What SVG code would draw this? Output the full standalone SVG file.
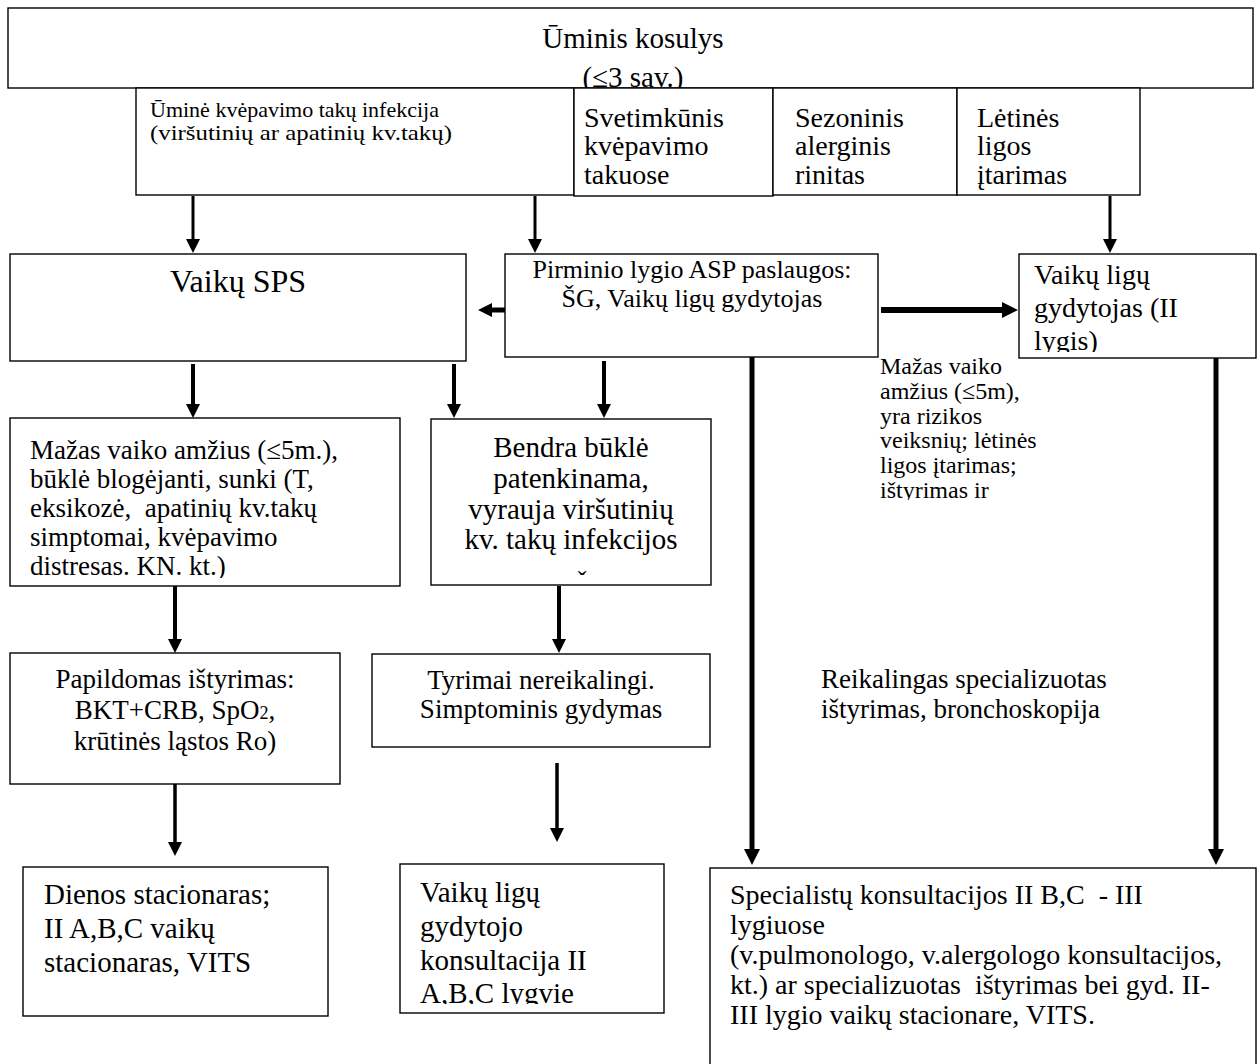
<svg xmlns="http://www.w3.org/2000/svg" width="1259" height="1064" viewBox="0 0 1259 1064">
<style>
.box{fill:#fff;stroke:#000;stroke-width:1.4}
.t{font-family:"Liberation Serif","Times New Roman",serif;fill:#000}
.c{text-anchor:middle}
.a{stroke:#000;fill:none}
</style>
<defs>
<marker id="ah" viewBox="0 0 14 14" refX="6" refY="7" markerWidth="14" markerHeight="14" markerUnits="userSpaceOnUse" orient="auto"><path d="M0,0 L14,7 L0,14 z" fill="#000"/></marker>
<marker id="ahL" viewBox="0 0 16 16" refX="7" refY="8" markerWidth="16" markerHeight="16" markerUnits="userSpaceOnUse" orient="auto"><path d="M0,0 L16,8 L0,16 z" fill="#000"/></marker>
<marker id="ahG" viewBox="0 0 14 14" refX="6" refY="7" markerWidth="14" markerHeight="14" markerUnits="userSpaceOnUse" orient="auto"><path d="M0,0 L14,7 L0,14 z" fill="#8a8a8a"/></marker>
<filter id="sh" x="-5%" y="-200%" width="110%" height="500%"><feDropShadow dx="0" dy="2" stdDeviation="1.5" flood-color="#000" flood-opacity="0.25"/></filter>
<clipPath id="cTop"><rect x="8" y="8" width="1245" height="80"/></clipPath>
<clipPath id="cVL"><rect x="1019" y="254" width="237" height="98"/></clipPath>
<clipPath id="cLab"><rect x="870" y="350" width="200" height="150"/></clipPath>
<clipPath id="cMz"><rect x="10" y="418" width="390" height="160"/></clipPath>
<clipPath id="cVG"><rect x="400" y="864" width="264" height="140"/></clipPath>
</defs>

<g id="connectors">
<line class="a" x1="193" y1="196" x2="193" y2="245" stroke-width="3" marker-end="url(#ah)"/>
<line class="a" x1="535" y1="196" x2="535" y2="245" stroke-width="3" marker-end="url(#ah)"/>
<line class="a" x1="1110" y1="196" x2="1110" y2="245" stroke-width="3" marker-end="url(#ah)"/>
<line class="a" x1="505" y1="310" x2="486" y2="310" stroke-width="5" marker-end="url(#ah)"/>
<line class="a" x1="881" y1="310" x2="1009" y2="310" stroke-width="6" marker-end="url(#ahL)"/>
<line class="a" x1="193" y1="364" x2="193" y2="410" stroke-width="4" marker-end="url(#ah)"/>
<line class="a" x1="454" y1="364" x2="454" y2="410" stroke-width="4" marker-end="url(#ah)"/>
<line class="a" x1="604" y1="361" x2="604" y2="410" stroke-width="4" marker-end="url(#ah)"/>
<line class="a" x1="752" y1="357" x2="752" y2="856" stroke-width="5" marker-end="url(#ahL)"/>
<line class="a" x1="1216" y1="358" x2="1216" y2="856" stroke-width="5" marker-end="url(#ahL)"/>
<line class="a" x1="175" y1="586" x2="175" y2="645" stroke-width="4" marker-end="url(#ah)"/>
<line class="a" x1="559" y1="586" x2="559" y2="645" stroke-width="4" marker-end="url(#ah)"/>
<line class="a" x1="175" y1="776" x2="175" y2="848" stroke-width="3.5" marker-end="url(#ah)"/>
<line class="a" x1="557" y1="763" x2="557" y2="834" stroke-width="3.5" marker-end="url(#ah)"/>
<line x1="340" y1="775" x2="741" y2="775" stroke="#8a8a8a" stroke-width="4" marker-end="url(#ahG)" filter="url(#sh)"/>
</g>

<g id="n-top">
<rect class="box" x="8" y="8" width="1245" height="80"/>
<g clip-path="url(#cTop)">
<text class="t c" x="633" y="48" font-size="29">Ūminis kosulys</text>
<text class="t c" x="633" y="87" font-size="29">(≤3 sav.)</text>
</g>
</g>

<g id="n-infekcija">
<rect class="box" x="136" y="88" width="438" height="107"/>
<text class="t" x="150" y="117" font-size="22">Ūminė kvėpavimo takų infekcija</text>
<text class="t" x="150" y="140" font-size="22" textLength="302" lengthAdjust="spacingAndGlyphs">(viršutinių ar apatinių kv.takų)</text>
</g>

<g id="n-svetimkunis">
<rect class="box" x="574" y="88" width="199" height="108"/>
<text class="t" x="584" y="127" font-size="28">Svetimkūnis</text>
<text class="t" x="584" y="155" font-size="28">kvėpavimo</text>
<text class="t" x="584" y="184" font-size="28">takuose</text>
</g>

<g id="n-sezoninis">
<rect class="box" x="773" y="88" width="184" height="107"/>
<text class="t" x="795" y="127" font-size="28">Sezoninis</text>
<text class="t" x="795" y="155" font-size="28">alerginis</text>
<text class="t" x="795" y="184" font-size="28">rinitas</text>
</g>

<g id="n-letines">
<rect class="box" x="957" y="88" width="183" height="107"/>
<text class="t" x="977" y="127" font-size="28">Lėtinės</text>
<text class="t" x="977" y="155" font-size="28">ligos</text>
<text class="t" x="977" y="184" font-size="28">įtarimas</text>
</g>

<g id="n-sps">
<rect class="box" x="10" y="254" width="456" height="107"/>
<text class="t c" x="238" y="292" font-size="32">Vaikų SPS</text>
</g>

<g id="n-pirminio">
<rect class="box" x="505" y="254" width="373" height="103"/>
<text class="t c" x="692" y="278" font-size="26">Pirminio lygio ASP paslaugos:</text>
<text class="t c" x="692" y="307" font-size="26">ŠG, Vaikų ligų gydytojas</text>
</g>

<g id="n-vlg2">
<rect class="box" x="1019" y="254" width="237" height="104"/>
<g clip-path="url(#cVL)">
<text class="t" x="1034" y="284" font-size="28">Vaikų ligų</text>
<text class="t" x="1034" y="317" font-size="28">gydytojas (II</text>
<text class="t" x="1034" y="350" font-size="28">lygis)</text>
</g>
</g>

<g id="l-mazas" clip-path="url(#cLab)">
<text class="t" x="880" y="374" font-size="24">Mažas vaiko</text>
<text class="t" x="880" y="399" font-size="24">amžius (≤5m),</text>
<text class="t" x="880" y="424" font-size="24">yra rizikos</text>
<text class="t" x="880" y="448" font-size="24">veiksnių; lėtinės</text>
<text class="t" x="880" y="473" font-size="24">ligos įtarimas;</text>
<text class="t" x="880" y="498" font-size="24">ištyrimas ir</text>
</g>

<g id="n-mazas">
<rect class="box" x="10" y="418" width="390" height="168"/>
<g clip-path="url(#cMz)">
<text class="t" x="30" y="459" font-size="27">Mažas vaiko amžius (≤5m.),</text>
<text class="t" x="30" y="488" font-size="27">būklė blogėjanti, sunki (T,</text>
<text class="t" x="30" y="517" font-size="27" xml:space="preserve">eksikozė,  apatinių kv.takų</text>
<text class="t" x="30" y="546" font-size="27">simptomai, kvėpavimo</text>
<text class="t" x="30" y="575" font-size="27">distresas. KN. kt.)</text>
</g>
</g>

<g id="n-bendra">
<rect class="box" x="431" y="419" width="280" height="166"/>
<text class="t c" x="571" y="457" font-size="29">Bendra būklė</text>
<text class="t c" x="571" y="488" font-size="29">patenkinama,</text>
<text class="t c" x="571" y="519" font-size="29">vyrauja viršutinių</text>
<text class="t c" x="571" y="549" font-size="29">kv. takų infekcijos</text>
<text class="t c" x="582" y="589" font-size="26">ˇ</text>
</g>

<g id="n-papildomas">
<rect class="box" x="10" y="653" width="330" height="131"/>
<text class="t c" x="175" y="688" font-size="27">Papildomas ištyrimas:</text>
<text class="t c" x="175" y="719" font-size="27">BKT+CRB, SpO<tspan font-size="18">2</tspan>,</text>
<text class="t c" x="175" y="750" font-size="27">krūtinės ląstos Ro)</text>
</g>

<g id="n-tyrimai">
<rect class="box" x="372" y="654" width="338" height="93"/>
<text class="t c" x="541" y="689" font-size="27">Tyrimai nereikalingi.</text>
<text class="t c" x="541" y="718" font-size="27">Simptominis gydymas</text>
</g>

<g id="l-reikalingas">
<text class="t" x="821" y="688" font-size="27">Reikalingas specializuotas</text>
<text class="t" x="821" y="718" font-size="27">ištyrimas, bronchoskopija</text>
</g>

<g id="n-dienos">
<rect class="box" x="23" y="867" width="305" height="149"/>
<text class="t" x="44" y="904" font-size="29">Dienos stacionaras;</text>
<text class="t" x="44" y="938" font-size="29">II A,B,C vaikų</text>
<text class="t" x="44" y="972" font-size="29">stacionaras, VITS</text>
</g>

<g id="n-vlgydytojo">
<rect class="box" x="400" y="864" width="264" height="149"/>
<g clip-path="url(#cVG)">
<text class="t" x="420" y="902" font-size="29">Vaikų ligų</text>
<text class="t" x="420" y="936" font-size="29">gydytojo</text>
<text class="t" x="420" y="970" font-size="29">konsultacija II</text>
<text class="t" x="420" y="1003" font-size="29">A,B,C lygvie</text>
</g>
</g>

<g id="n-specialistu">
<rect class="box" x="710" y="868" width="546" height="210"/>
<text class="t" x="730" y="904" font-size="28" xml:space="preserve">Specialistų konsultacijos II B,C  - III</text>
<text class="t" x="730" y="934" font-size="28">lygiuose</text>
<text class="t" x="730" y="964" font-size="28">(v.pulmonologo, v.alergologo konsultacijos,</text>
<text class="t" x="730" y="994" font-size="28" xml:space="preserve">kt.) ar specializuotas  ištyrimas bei gyd. II-</text>
<text class="t" x="730" y="1024" font-size="28">III lygio vaikų stacionare, VITS.</text>
</g>
</svg>
